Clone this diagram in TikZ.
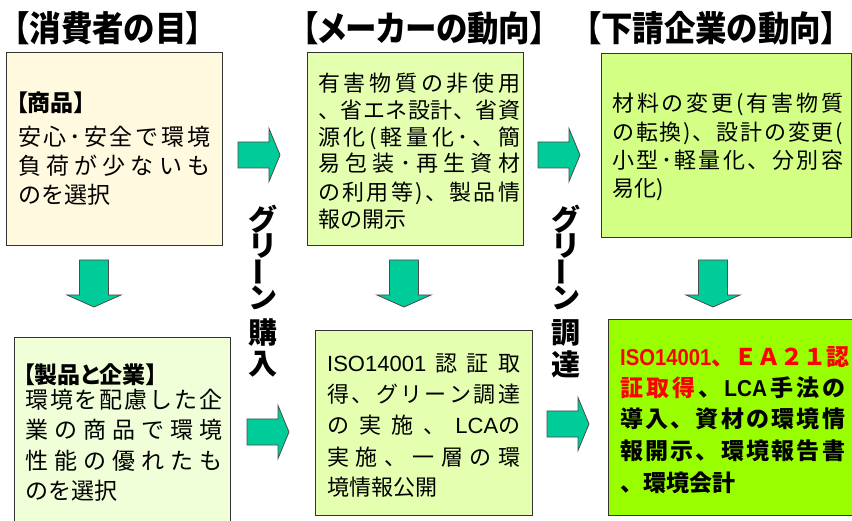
\documentclass[tikz,border=0pt]{standalone}
\usepackage{fontspec}
\setmainfont{Noto Sans CJK JP}
\newfontfamily\lat{Liberation Sans}
\usepackage{graphicx}
\makeatletter
\newcommand\dl[2]{\makebox[#1][s]{\@tfor\dl@t:=#2\do{{\dl@t}\hfil}\unskip}}
\makeatother
\newcommand\rd{\color{red}}
\definecolor{cA}{HTML}{FFF9DF}
\definecolor{cB}{HTML}{E4FFB0}
\definecolor{cC}{HTML}{D2FF84}
\definecolor{cD}{HTML}{F0FFD8}
\definecolor{cF}{HTML}{99FF00}
\definecolor{arrc}{HTML}{00CC99}
\tikzset{
  box/.style={draw=black!80, line width=0.8pt, rectangle, inner sep=0pt},
  ln/.style={anchor=base west, inner sep=0pt},
  fa/.style={font=\fontsize{23}{23}\selectfont},
  fb/.style={font=\fontsize{22}{22}\selectfont},
  fbold/.style={font=\bfseries\fontsize{23}{23}\selectfont},
  hd/.style={anchor=base west, inner sep=0pt, font=\bfseries\fontsize{23}{23}\selectfont\addfontfeatures{RawFeature=+palt}},
  ttl/.style={anchor=base, inner sep=0pt, font=\bfseries\fontsize{35}{35}\selectfont\addfontfeatures{RawFeature=+palt}},
  vch/.style={anchor=center, inner sep=0pt, font=\bfseries\fontsize{29}{29}\selectfont},
  blk/.style={draw=black!70, line width=0.8pt, fill=arrc},
  rarr/.pic={\draw[blk] (0,-13) -- (31,-13) -- (31,-26.5) -- (42,0) -- (31,26.5) -- (31,13) -- (0,13) -- cycle;},
  darr/.pic={\draw[blk] (-14.5,0) -- (14.5,0) -- (14.5,35) -- (27,35) -- (0,47) -- (-27,35) -- (-14.5,35) -- cycle;}
}
\begin{document}
\begin{tikzpicture}[x=1pt,y=-1pt]
\useasboundingbox (0,0) rectangle (852,521);
\clip (0,0) rectangle (852,521);
\fill[white] (0,0) rectangle (852,521);

% titles
\node[ttl] (t1) at (108,41.5) {\scalebox{0.9}[1]{【消費者の目】}};
\node[ttl] (t2) at (424,41.5) {\scalebox{0.9}[1]{【メーカーの動向】}};
\node[ttl] (t3) at (711,41.5) {\scalebox{0.9}[1]{【下請企業の動向】}};

% boxes
\node[box, fill=cA, minimum width=216pt, minimum height=193pt] (b1) at (114,148.5) {};
\node[box, fill=cB, minimum width=216pt, minimum height=193pt] (b2) at (415,148.5) {};
\node[box, fill=cC, minimum width=250pt, minimum height=184pt] (b3) at (726,145) {};
\node[box, fill=cD, minimum width=216pt, minimum height=203pt] (b4) at (122,438.5) {};
\node[box, fill=cB, minimum width=217pt, minimum height=185pt] (b5) at (423.5,422.5) {};
\node[box, fill=cF, minimum width=262pt, minimum height=196pt] (b6) at (739,417) {};

% box 1 text
\node[hd] (b1h) at (16,111.5) {【商品】};
\node[ln,fa] (b1a) at (18,145.5) {\dl{192pt}{安心･安全で環境}};
\node[ln,fa] (b1b) at (18,174.5) {\dl{192pt}{負荷が少ないも}};
\node[ln,fa] (b1c) at (18,203.5) {のを選択};

% box 2 text
\node[ln,fb] (b2a) at (318,91.1) {\dl{202pt}{有害物質の非使用}};
\node[ln,fb] (b2b) at (318,118.1) {\dl{202pt}{、省エネ設計、省資}};
\node[ln,fb] (b2c) at (318,145.1) {\dl{202pt}{源化(軽量化･、簡}};
\node[ln,fb] (b2d) at (318,171.1) {\dl{202pt}{易包装･再生資材}};
\node[ln,fb] (b2e) at (318,200.1) {\dl{202pt}{の利用等)、製品情}};
\node[ln,fb] (b2f) at (318,227.1) {報の開示};

% box 3 text
\node[ln,fb] (b3a) at (612,111.1) {\dl{231pt}{材料の変更(有害物質}};
\node[ln,fb] (b3b) at (612,140.1) {\dl{231pt}{の転換)、設計の変更(}};
\node[ln,fb] (b3c) at (612,168.1) {\dl{231pt}{小型･軽量化、分別容}};
\node[ln,fb] (b3d) at (612,196.1) {易化)};

% box 4 text
\node[hd] (b4h) at (23,383.5) {【製品と企業】};
\node[ln,fa] (b4a) at (25,408.5) {\dl{197pt}{環境を配慮した企}};
\node[ln,fa] (b4b) at (25,438.5) {\dl{197pt}{業の商品で環境}};
\node[ln,fa] (b4c) at (25,469.5) {\dl{197pt}{性能の優れたも}};
\node[ln,fa] (b4d) at (25,499.5) {のを選択};

% box 5 text
\node[ln,fb] (b5a) at (327,371.1) {\dl{193pt}{{\lat ISO14001}認証取}};
\node[ln,fb] (b5b) at (327,402.1) {\dl{193pt}{得、グリーン調達}};
\node[ln,fb] (b5c) at (327,433.1) {\dl{193pt}{の実施、{{\lat LCA}の}}};
\node[ln,fb] (b5d) at (327,465.1) {\dl{193pt}{実施、一層の環}};
\node[ln,fb] (b5e) at (327,495.1) {境情報公開};

% box 6 text
\node[ln,fbold] (b6a) at (620,365.5) {\dl{225pt}{{\rd\scalebox{0.88}[1]{\lat\bfseries\fontsize{23}{23}\selectfont ISO14001}}{\rd 、}{\rd Ｅ}{\rd Ａ}{\rd ２}{\rd １}{\rd 認}}};
\node[ln,fbold] (b6b) at (620,396.5) {\dl{225pt}{{\rd 証}{\rd 取}{\rd 得}、{\scalebox{0.9}[1]{\lat\bfseries\fontsize{23}{23}\selectfont LCA}}手法の}};
\node[ln,fbold] (b6c) at (620,427.5) {\dl{225pt}{導入、資材の環境情}};
\node[ln,fbold] (b6d) at (620,459.5) {\dl{225pt}{報開示、環境報告書}};
\node[ln,fbold] (b6e) at (620,491.5) {、環境会計};

% arrows
\pic at (238,155) {rarr};
\pic at (538,155) {rarr};
\pic at (247,432) {rarr};
\pic at (547,424) {rarr};
\pic at (94,260) {darr};
\pic at (404,260) {darr};
\pic at (713,260) {darr};

% vertical labels
\node[vch] (g1) at (263,219) {グ};
\node[vch] (g2) at (263,246) {リ};
\node[vch] (g3) at (263,272) {\rotatebox{90}{ー}};
\node[vch] (g4) at (263,298) {ン};
\node[vch] (g5) at (263,333) {購};
\node[vch] (g6) at (263,364) {入};
\node[vch] (h1) at (566,219) {グ};
\node[vch] (h2) at (566,246) {リ};
\node[vch] (h3) at (566,272) {\rotatebox{90}{ー}};
\node[vch] (h4) at (566,298) {ン};
\node[vch] (h5) at (566,333) {調};
\node[vch] (h6) at (566,364) {達};
\end{tikzpicture}
\end{document}
